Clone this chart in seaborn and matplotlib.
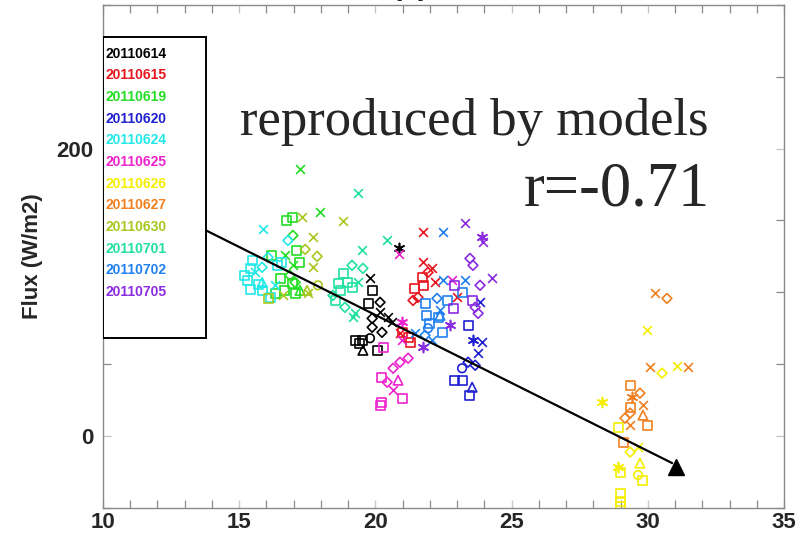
import matplotlib
matplotlib.use("Agg")
import matplotlib.pyplot as plt
from matplotlib.patches import Rectangle
from matplotlib.ticker import MultipleLocator, FixedLocator
import pandas as pd
import seaborn as sns

# ---- cruise days and their colours -------------------------------------
dates = ["20110614", "20110615", "20110619", "20110620", "20110624", "20110625",
         "20110626", "20110627", "20110630", "20110701", "20110702", "20110705"]
colors = ["#000000", "#e8141e", "#22dd22", "#2020d0", "#22e8e8", "#ee22cc",
          "#f5ee00", "#f08020", "#a8c820", "#20e0a0", "#2080f0", "#8a2be2"]

# ---- SST (x), flux (y) and symbol code for every day ---------------------
sst_0614 = [19.80, 19.91, 19.73, 20.17, 20.17, 20.46, 19.88, 19.88, 20.24, 19.25, 19.51, 19.43, 19.80, 19.54, 20.06, 20.87, 20.61]
flux_0614 = [109.7, 101.4, 92.4, 93.1, 86.1, 82.6, 81.9, 75.7, 72.2, 66.7, 66.7, 64.6, 68.1, 59.7, 59.7, 130.6, 79.2]
sym_0614 = "x s s d x x d d d s s s o ^ s * x".split()

sst_0615 = [21.75, 21.75, 22.08, 21.71, 21.45, 21.75, 21.38, 22.19, 22.99, 21.01, 21.20, 20.90, 21.27, 21.56, 21.93]
flux_0615 = [141.7, 120.8, 116.7, 110.4, 102.8, 104.9, 94.4, 106.9, 96.5, 72.2, 68.8, 71.5, 65.3, 96.5, 113.9]
sym_0615 = "x x x s s s d x x s s x s d d".split()

sst_0619 = [16.75, 16.94, 16.97, 17.12, 16.68, 17.23, 16.97, 16.86, 16.50, 17.05, 16.68, 17.23, 16.35, 16.20, 17.23, 17.97, 16.94, 17.05]
flux_0619 = [150.0, 152.1, 139.6, 129.2, 125.7, 120.8, 118.8, 111.8, 109.7, 106.9, 101.4, 101.4, 99.3, 125.7, 186.1, 155.6, 106.3, 99.3]
sym_0619 = "s s d s x s x d s d s ^ s s x x s s".split()

sst_0620 = [23.40, 23.91, 23.58, 23.77, 23.40, 23.66, 23.18, 22.92, 23.18, 23.55, 23.47, 23.84]
flux_0620 = [77.1, 65.3, 66.7, 57.6, 51.4, 49.3, 47.2, 38.9, 38.9, 34.0, 28.5, 93.1]
sym_0620 = "s x * x d d o s s ^ s x".split()

sst_0624 = [15.87, 15.47, 15.40, 15.32, 15.40, 15.69, 16.13, 15.87, 16.39, 15.84, 15.21, 15.58, 16.79, 16.06, 16.57, 16.31, 15.84]
flux_0624 = [143.8, 122.2, 116.7, 108.3, 102.1, 105.6, 96.5, 101.4, 118.8, 117.4, 111.8, 113.9, 136.1, 124.3, 120.8, 104.9, 106.9]
sym_0624 = "x s s s s s s s s d s x d d s x ^".split()

sst_0625 = [22.81, 20.87, 20.98, 20.98, 20.28, 21.20, 20.90, 20.65, 20.24, 20.43, 20.83, 20.65, 21.01, 20.17, 20.21]
flux_0625 = [108.3, 126.4, 79.2, 66.7, 61.8, 54.2, 51.4, 47.2, 41.0, 37.5, 38.9, 31.9, 26.4, 21.5, 23.6]
sym_0625 = "x x * x s d d d s d ^ x s s s".split()

sst_0626 = [29.97, 31.07, 30.52, 28.32, 28.91, 29.35, 29.64, 28.91, 28.98, 29.71, 29.64, 29.82, 28.98, 28.98, 28.98]
flux_0626 = [73.6, 48.6, 43.8, 23.6, 6.3, -11.1, -7.6, -21.5, -25.0, -18.8, -27.1, -30.6, -39.6, -45.8, -49.3]
sym_0626 = "x x d * s d x * s ^ o s s s s".split()

sst_0627 = [30.26, 30.70, 30.08, 31.48, 29.35, 29.42, 29.71, 29.35, 29.82, 29.35, 29.82, 29.97, 29.35, 29.16, 29.09]
flux_0627 = [99.3, 95.8, 47.9, 47.9, 35.4, 27.1, 29.9, 20.1, 21.5, 16.0, 14.6, 7.6, 7.6, 12.5, -4.2]
sym_0627 = "x d x x s * d s x d ^ s x d s".split()

sst_0630 = [17.31, 18.81, 17.71, 17.42, 17.86, 17.71, 17.49, 17.53, 16.61, 17.89, 16.09]
flux_0630 = [152.1, 149.3, 138.2, 129.9, 125.0, 117.4, 101.4, 99.3, 97.9, 104.9, 95.8]
sym_0630 = "x x x d d x ^ x x o s".split()

sst_0701 = [19.36, 20.43, 19.51, 19.14, 19.54, 18.81, 18.63, 18.96, 18.70, 19.14, 18.52, 18.88, 19.25, 19.18, 18.44, 19.36]
flux_0701 = [168.8, 136.1, 129.2, 118.8, 116.7, 113.2, 106.3, 106.9, 101.4, 103.5, 94.4, 89.6, 85.4, 82.6, 97.9, 106.9]
sym_0701 = "x x x d d s s s s s s d x x d x".split()

sst_0702 = [22.48, 22.48, 23.29, 21.82, 22.26, 22.63, 22.37, 22.37, 23.18, 21.89, 22.30, 22.48, 21.82, 21.45, 22.08, 21.93, 22.00]
flux_0702 = [141.7, 108.3, 108.3, 92.4, 95.8, 94.4, 87.5, 84.0, 100.0, 84.0, 82.6, 72.2, 70.1, 71.5, 66.7, 75.0, 78.5]
sym_0702 = "x x x s d s x ^ s s s s d x x o s".split()

sst_0705 = [23.29, 23.91, 23.95, 23.47, 23.58, 24.28, 23.84, 23.55, 23.66, 22.85, 23.77, 22.74, 21.75, 22.92]
flux_0705 = [147.9, 138.2, 134.7, 123.6, 118.8, 109.7, 104.9, 94.4, 89.6, 88.9, 85.4, 77.1, 61.8, 104.9]
sym_0705 = "x * x d d x d s d s d * * s".split()

sst_all = [sst_0614, sst_0615, sst_0619, sst_0620, sst_0624, sst_0625,
           sst_0626, sst_0627, sst_0630, sst_0701, sst_0702, sst_0705]
flux_all = [flux_0614, flux_0615, flux_0619, flux_0620, flux_0624, flux_0625,
            flux_0626, flux_0627, flux_0630, flux_0701, flux_0702, flux_0705]
sym_all = [sym_0614, sym_0615, sym_0619, sym_0620, sym_0624, sym_0625,
           sym_0626, sym_0627, sym_0630, sym_0701, sym_0702, sym_0705]

# regression arrow (data coordinates) and correlation text
trend_sst = [13.78, 30.89]
trend_flux = [143.1, -18.75]
head_sst = [31.04]
head_flux = [-21.5]
r_value = -0.71

# ---- style ---------------------------------------------------------------
sns.set_style("white")
plt.rcParams["font.family"] = ["Liberation Sans", "DejaVu Sans"]
plt.rcParams["font.weight"] = "bold"

fig = plt.figure(figsize=(8.06, 5.37), dpi=100)
ax = fig.add_axes([0.1278, 0.054, 0.845, 0.937])

MARKERS = {"s": ("s", 42), "d": ("D", 25), "^": ("^", 46), "o": ("o", 38),
           "x": ("x", 40), "*": ((6, 2, 0), 52)}

frames = []
for d, c, xs, ys, ss in zip(dates, colors, sst_all, flux_all, sym_all):
    frames.append(pd.DataFrame({"date": d, "color": c, "sst": xs, "flux": ys, "sym": ss}))
df = pd.concat(frames, ignore_index=True)

for (d, code), grp in df.groupby(["date", "sym"], sort=False):
    col = grp["color"].iloc[0]
    m, size = MARKERS[code]
    if code in ("x", "*"):
        sns.scatterplot(data=grp, x="sst", y="flux", marker=m, s=size,
                        color=col, linewidth=1.2, ax=ax, legend=False, zorder=3)
    else:
        sns.scatterplot(data=grp, x="sst", y="flux", marker=m, s=size,
                        color=col, facecolor="none", edgecolor=col,
                        linewidth=1.2, ax=ax, legend=False, zorder=3)

# regression arrow
ax.plot(trend_sst, trend_flux, color="black", lw=1.6, zorder=4)
ax.plot(head_sst, head_flux, marker="^", ms=12, color="black", ls="none", zorder=4)

# ---- axes ----------------------------------------------------------------
ax.set_xlim(10, 35)
ax.set_ylim(-50, 300)
ax.xaxis.set_major_locator(MultipleLocator(5))
ax.xaxis.set_minor_locator(MultipleLocator(1))
ax.yaxis.set_major_locator(FixedLocator([0, 200]))
ax.yaxis.set_minor_locator(MultipleLocator(50))
ax.tick_params(which="both", direction="in", top=True, right=True,
               bottom=True, left=True)
ax.tick_params(which="minor", length=6, width=0.9, color="#8a8a8a")
ax.tick_params(which="major", length=6, width=1.0, color="#c8c8c8",
               labelsize=16)
ax.tick_params(axis="x", which="major", pad=3)
ax.tick_params(axis="y", which="major", pad=7)
for sp in ax.spines.values():
    sp.set_color("#8a8a8a")
    sp.set_linewidth(1.0)

ax.set_xlabel("")
ax.set_ylabel("Flux (W/m2)", fontsize=16, fontweight="bold")
ax.yaxis.set_label_coords(-0.088, 0.501)

# date key box
ax.add_patch(Rectangle((0.0, 0.338), 0.151, 0.598, transform=ax.transAxes,
                       fill=True, facecolor="white", edgecolor="black",
                       lw=1.4, zorder=5))
for i, (d, c) in enumerate(zip(dates, colors)):
    ax.text(0.004, 0.9026 - i * 0.0430, d, color=c, fontsize=10,
            fontweight="bold", ha="left", va="center",
            transform=ax.transAxes, zorder=6)

# annotation text
ax.text(0.201, 0.7416, "reproduced by models", fontsize=38,
        family=["Liberation Serif", "DejaVu Serif"], fontweight="normal",
        ha="left", va="baseline", transform=ax.transAxes, zorder=6)
ax.text(0.891, 0.602, f"r={r_value:.2f}", fontsize=45,
        family=["Liberation Serif", "DejaVu Serif"], fontweight="normal",
        ha="right", va="baseline", transform=ax.transAxes, zorder=6)

# panel tag at the top edge
fig.text(410 / 806, 1.012, "(a)", fontsize=22, fontweight="bold",
         ha="center", va="baseline")

fig.savefig("out.png", dpi=100)
